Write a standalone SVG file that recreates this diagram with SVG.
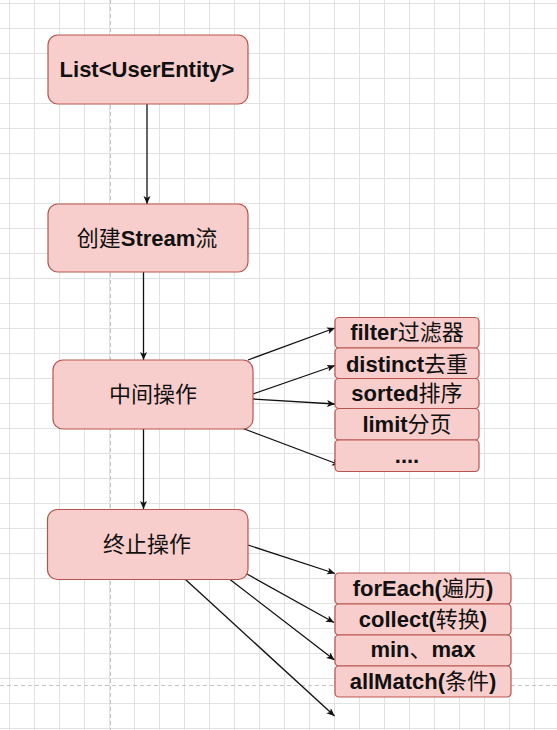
<svg xmlns="http://www.w3.org/2000/svg" width="557" height="730" viewBox="0 0 557 730">
<style>
.node{fill:#f8cecc;stroke:#b85450;stroke-width:1.2}
.t{font-family:"Liberation Sans","Noto Sans CJK SC",Arial,sans-serif;font-size:22px;fill:#111;text-anchor:middle}
.b{font-weight:bold}
.c{font-family:"Noto Sans CJK SC","Liberation Sans",sans-serif;font-weight:normal}
.edge{stroke:#111;stroke-width:1.3;fill:none;marker-end:url(#arr)}
</style>
<defs>
<pattern id="grid" x="9" y="3" width="25" height="25" patternUnits="userSpaceOnUse">
<path d="M0.5 0 V25 M0 0.5 H25" stroke="#e2e2e2" stroke-width="1" fill="none"/>
</pattern>
<marker id="arr" markerUnits="userSpaceOnUse" markerWidth="10" markerHeight="8" refX="8" refY="3.5" orient="auto">
<path d="M0,0 L8,3.5 L0,7 L2,3.5 Z" fill="#111"/>
</marker>
</defs>
<rect width="557" height="730" fill="#ffffff"/>
<rect width="557" height="730" fill="url(#grid)"/>
<line x1="110.5" y1="0" x2="110.5" y2="730" stroke="#c4c4c4" stroke-width="1" stroke-dasharray="4,3"/>
<line x1="0" y1="685.5" x2="557" y2="685.5" stroke="#c4c4c4" stroke-width="1" stroke-dasharray="4,3"/>

<g id="connectors">
<line class="edge" x1="147" y1="104" x2="147" y2="204"/>
<line class="edge" x1="143.5" y1="272" x2="143.5" y2="360"/>
<line class="edge" x1="143.5" y1="429" x2="143.5" y2="509"/>
<line class="edge" x1="248" y1="360" x2="335" y2="328"/>
<line class="edge" x1="253" y1="394" x2="335" y2="365.5"/>
<line class="edge" x1="253" y1="399" x2="335" y2="404"/>
<line class="edge" x1="243" y1="428.5" x2="340" y2="465"/>
<line class="edge" x1="248" y1="545" x2="335" y2="573.5"/>
<line class="edge" x1="247" y1="574" x2="334" y2="622.5"/>
<line class="edge" x1="230" y1="579.5" x2="334.5" y2="660"/>
<line class="edge" x1="185.5" y1="579.5" x2="334.5" y2="716"/>
</g>

<g id="n-list">
<rect class="node" x="48" y="35" width="200" height="69" rx="10"/>
<text class="t b" x="147" y="77">List&lt;UserEntity&gt;</text>
</g>
<g id="n-create">
<rect class="node" x="48" y="204" width="200" height="68" rx="10"/>
<text class="t" x="147" y="246"><tspan class="c">创建</tspan><tspan class="b">Stream</tspan><tspan class="c">流</tspan></text>
</g>
<g id="n-mid">
<rect class="node" x="53" y="360" width="200" height="69" rx="10"/>
<text class="t c" x="153" y="402">中间操作</text>
</g>
<g id="n-term">
<rect class="node" x="47.5" y="509.5" width="200.5" height="70" rx="10"/>
<text class="t c" x="147" y="552">终止操作</text>
</g>

<g id="n-filter">
<rect class="node" x="335" y="317.5" width="144" height="30.5" rx="4"/>
<text class="t" x="407" y="340"><tspan class="b">filter</tspan><tspan class="c">过滤器</tspan></text>
</g>
<g id="n-distinct">
<rect class="node" x="335" y="348" width="144" height="30.5" rx="4"/>
<text class="t" x="407" y="371.5"><tspan class="b">distinct</tspan><tspan class="c">去重</tspan></text>
</g>
<g id="n-sorted">
<rect class="node" x="335" y="378.5" width="144" height="30" rx="4"/>
<text class="t" x="407" y="401"><tspan class="b">sorted</tspan><tspan class="c">排序</tspan></text>
</g>
<g id="n-limit">
<rect class="node" x="335" y="408.5" width="144" height="31.5" rx="4"/>
<text class="t" x="407" y="431.5"><tspan class="b">limit</tspan><tspan class="c">分页</tspan></text>
</g>
<g id="n-more">
<rect class="node" x="335" y="440" width="144" height="31.5" rx="4"/>
<text class="t b" x="407" y="463">....</text>
</g>

<g id="n-foreach">
<rect class="node" x="335" y="573" width="176" height="31" rx="4"/>
<text class="t" x="423" y="596"><tspan class="b">forEach(</tspan><tspan class="c">遍历</tspan><tspan class="b">)</tspan></text>
</g>
<g id="n-collect">
<rect class="node" x="335" y="604" width="176" height="31" rx="4"/>
<text class="t" x="423" y="627"><tspan class="b">collect(</tspan><tspan class="c">转换</tspan><tspan class="b">)</tspan></text>
</g>
<g id="n-minmax">
<rect class="node" x="335" y="635" width="176" height="31" rx="4"/>
<text class="t" x="423" y="657"><tspan class="b">min</tspan><tspan class="c">、</tspan><tspan class="b">max</tspan></text>
</g>
<g id="n-allmatch">
<rect class="node" x="335" y="666" width="176" height="31" rx="4"/>
<text class="t" x="423" y="688.5"><tspan class="b">allMatch(</tspan><tspan class="c">条件</tspan><tspan class="b">)</tspan></text>
</g>
</svg>
